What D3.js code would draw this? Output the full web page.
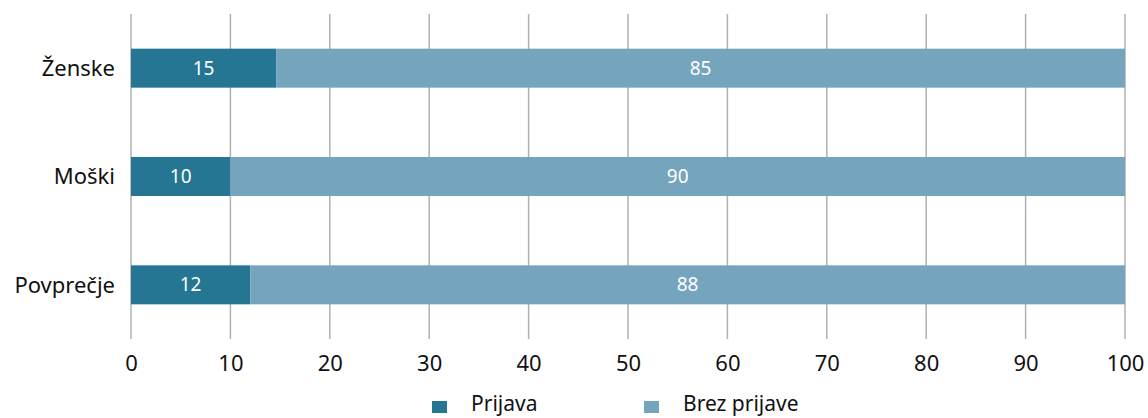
<!DOCTYPE html>
<html>
<head>
<meta charset="utf-8">
<script src="https://cdn.jsdelivr.net/npm/d3@7"></script>
<style>
  body { margin: 0; background: #fff; }
  text { font-family: "Noto Sans", "Open Sans", sans-serif; }
</style>
</head>
<body>
<div id="chart"></div>
<script>
var width = 1148, height = 418;

// data
var categories = ["Ženske", "Moški", "Povprečje"];
var prijava = [14.6, 10, 12];
var brezPrijave = [85.4, 90, 88];
var seriesNames = ["Prijava", "Brez prijave"];
var seriesColors = ["#247693", "#74a5bd"];
var xTicks = [0, 10, 20, 30, 40, 50, 60, 70, 80, 90, 100];

var svg = d3.select("#chart").append("svg")
    .attr("width", width)
    .attr("height", height);

var x = d3.scaleLinear().domain([0, 100]).range([131, 1125]);
var y = d3.scaleBand().domain(categories).range([14, 339])
    .paddingInner(0.64).paddingOuter(0.32);

// gridlines
svg.append("g")
    .selectAll("line")
    .data(xTicks)
    .enter().append("line")
    .attr("x1", function(d) { return x(d); })
    .attr("x2", function(d) { return x(d); })
    .attr("y1", 14)
    .attr("y2", 339)
    .attr("stroke", "#b0b0b0")
    .attr("stroke-width", 1.5);

// stacked data
var rows = categories.map(function(c, i) {
  return { cat: c, Prijava: prijava[i], "Brez prijave": brezPrijave[i] };
});
var stack = d3.stack().keys(seriesNames)(rows);

var layers = svg.append("g")
    .selectAll("g")
    .data(stack)
    .enter().append("g")
    .attr("fill", function(d, i) { return seriesColors[i]; });

layers.selectAll("rect")
    .data(function(d) { return d; })
    .enter().append("rect")
    .attr("x", function(d) { return x(d[0]); })
    .attr("width", function(d) { return x(d[1]) - x(d[0]); })
    .attr("y", function(d) { return y(d.data.cat); })
    .attr("height", y.bandwidth());

layers.selectAll("text")
    .data(function(d) { return d; })
    .enter().append("text")
    .attr("x", function(d) { return (x(d[0]) + x(d[1])) / 2; })
    .attr("y", function(d) { return y(d.data.cat) + y.bandwidth() / 2; })
    .attr("dy", "0.35em")
    .attr("text-anchor", "middle")
    .attr("fill", "#fff")
    .style("font-size", "19px")
    .text(function(d) { return d3.format(".0f")(d[1] - d[0]); });

// category labels
svg.append("g")
    .selectAll("text")
    .data(categories)
    .enter().append("text")
    .attr("x", 115)
    .attr("y", function(d) { return y(d) + y.bandwidth() / 2; })
    .attr("dy", "0.35em")
    .attr("text-anchor", "end")
    .attr("fill", "#111")
    .style("font-size", "22px")
    .text(function(d) { return d; });

// x axis
var xAxis = svg.append("g")
    .attr("transform", "translate(0,339)")
    .call(d3.axisBottom(x).tickValues(xTicks).tickSize(0).tickPadding(16));
xAxis.select(".domain").remove();
xAxis.selectAll("text")
    .attr("fill", "#111")
    .style("font-size", "22px")
    .style("font-family", "'Noto Sans', 'Open Sans', sans-serif");

// legend
var legendX = [432, 644];
var legend = svg.append("g")
    .selectAll("g")
    .data(seriesNames)
    .enter().append("g")
    .attr("transform", function(d, i) { return "translate(" + legendX[i] + ",0)"; });
legend.append("rect")
    .attr("y", 401)
    .attr("width", 15)
    .attr("height", 12)
    .attr("fill", function(d, i) { return seriesColors[i]; });
legend.append("text")
    .attr("x", 39)
    .attr("y", 411)
    .attr("fill", "#111")
    .style("font-size", "21px")
    .text(function(d) { return d; });
</script>
</body>
</html>
